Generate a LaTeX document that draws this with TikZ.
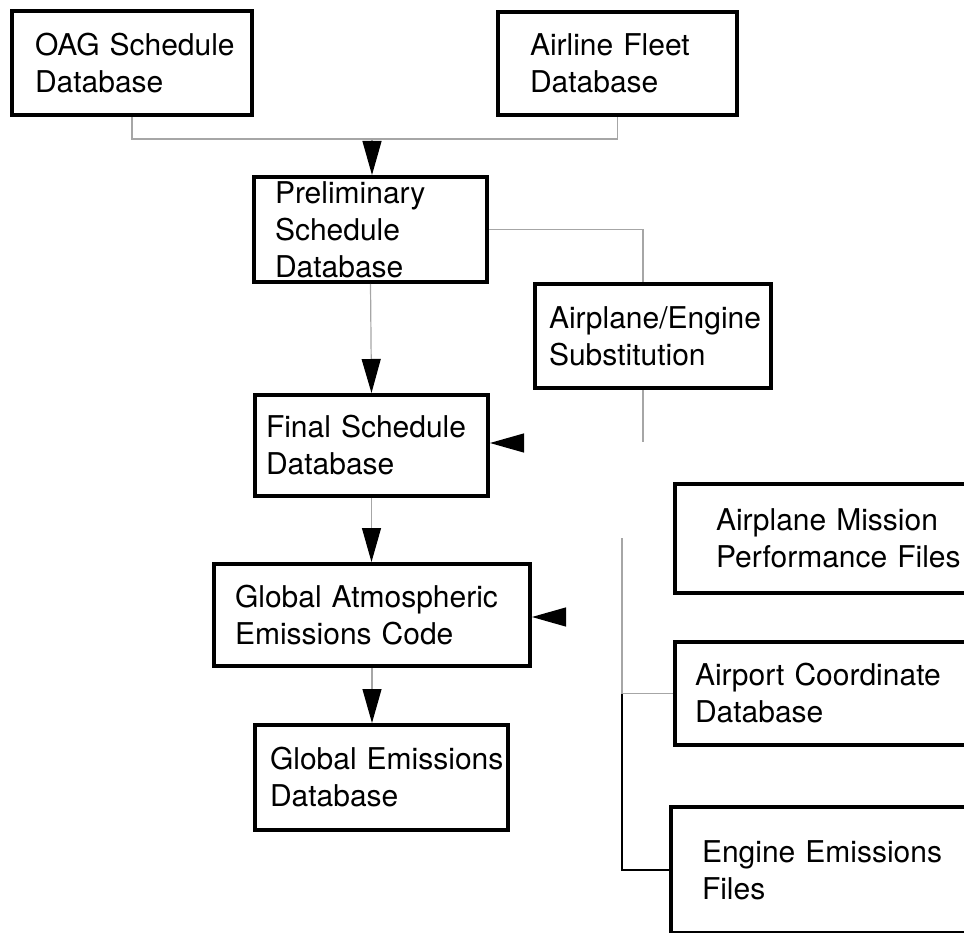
\documentclass[tikz,border=0pt]{standalone}
\usepackage{fontspec}
\setmainfont{TeX Gyre Heros}
\usetikzlibrary{arrows.meta}
\hyphenpenalty=10000
\hbadness=10000
\tikzset{dbbox/.style = {draw, line width=4pt, anchor=north west, align=left,
                         inner ysep=0pt, inner xsep=#1,
                         font=\fontsize{30}{37}\selectfont}}
\tikzset{link/.style = {draw=gray!70, line width=1.2pt}}
\tikzset{feed/.style = {link, -{Triangle[length=34pt, width=19pt, color=black]}}}
\tikzset{trunk/.style = {draw=black, line width=2.5pt}}

\begin{document}
\begin{tikzpicture}[x=1pt, y=-1pt]
    \clip (0, 0) rectangle (964, 933);
    \node [dbbox=23pt, text width=194pt, minimum height=104pt] (oag) at (10, 9) {OAG~Schedule\\Database};
    \node [dbbox=32pt, text width=175pt, minimum height=103pt] (fleet) at (496, 10) {Airline~Fleet\\Database};
    \node [dbbox=21pt, text width=191pt, minimum height=105pt] (prelim) at (252, 175) {Preliminary\\Schedule\\Database};
    \node [dbbox=14pt, text width=208pt, minimum height=104pt] (subst) at (533, 282) {Airplane/Engine\\Substitution};
    \node [dbbox=11pt, text width=211pt, minimum height=101pt] (final) at (253, 393) {Final~Schedule\\Database};
    \node [dbbox=21pt, text width=274pt, minimum height=102pt] (gaec) at (212, 562) {Global~Atmospheric\\Emissions~Code};
    \node [dbbox=15pt, text width=223pt, minimum height=105pt] (emis) at (253, 723) {Global~Emissions\\Database};
    \node [dbbox=41pt, text width=228pt, minimum height=109pt] (mission) at (673, 482) {Airplane~Mission\\Performance~Files};
    \node [dbbox=20pt, text width=270pt, minimum height=103pt] (airport) at (673, 640) {Airport~Coordinate\\Database};
    \node [dbbox=31pt, text width=252pt, minimum height=126pt] (engine) at (669, 805) {Engine~Emissions\\Files};

    \coordinate (merge) at (372, 139);
    \coordinate (subDrop) at (643, 442);
    \coordinate (finalIn) at (520, 443);
    \coordinate (gaecIn) at (556, 617);
    \coordinate (trunkTop) at (622, 538);

    \draw [link] (oag.south) -- (oag.south |- merge) -- (merge -| fleet.south) -- (fleet.south);
    \draw [feed] (merge) -- (merge |- prelim.north);
    \draw [link] (prelim.east) -| (subDrop |- subst.north);
    \draw [link] (subDrop |- subst.south) -- (subDrop);
    \draw [feed] (prelim.south) -- (final.north);
    \draw [feed] (finalIn) -- (finalIn -| final.east);
    \draw [feed] (final.south) -- (final.south |- gaec.north);
    \draw [feed] (gaecIn) -- (gaecIn -| gaec.east);
    \draw [feed] (gaec.south) -- (gaec.south |- emis.north);
    \draw [link] (trunkTop) |- (airport.west);
    \draw [trunk] (trunkTop |- airport.west) |- (engine.west);
\end{tikzpicture}
\end{document}
